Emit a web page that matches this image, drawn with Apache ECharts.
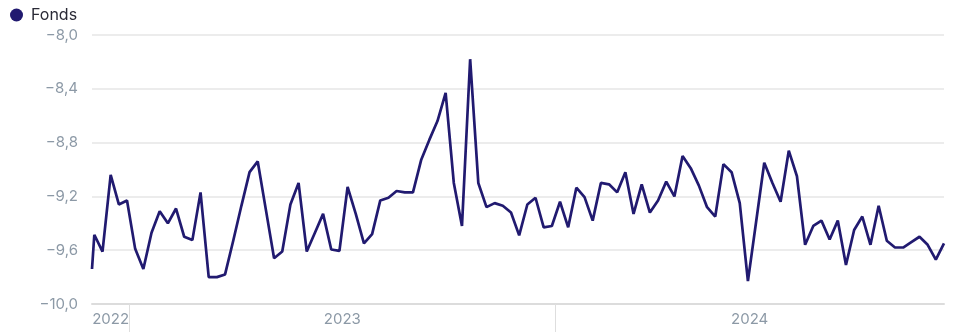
<!DOCTYPE html>
<html>
<head>
<meta charset="utf-8">
<title>Fonds</title>
<script src="https://cdn.jsdelivr.net/npm/echarts@6/dist/echarts.min.js"></script>
<style>
  html, body { margin: 0; padding: 0; background: #ffffff; }
  #chart { width: 953px; height: 332px; }
</style>
</head>
<body>
<div id="chart"></div>
<script>
// Series name shown in the legend
const seriesName = 'Fonds';

// First observation (month end), then weekly Friday observations
const firstDate = [2022, 10, 30];
const weeklyStart = [2022, 11, 2];

// Weekly values of the fund
const fondsValues = [
  -9.74, -9.485, -9.61, -9.04, -9.26, -9.23, -9.59, -9.74, -9.47, -9.31,
  -9.40, -9.29, -9.50, -9.525, -9.17, -9.80, -9.80, -9.78, -9.53, -9.27,
  -9.02, -8.94, -9.30, -9.66, -9.61, -9.26, -9.10, -9.61, -9.47, -9.33,
  -9.595, -9.605, -9.13, -9.33, -9.55, -9.48, -9.23, -9.21, -9.16, -9.17,
  -9.17, -8.93, -8.78, -8.64, -8.43, -9.10, -9.42, -8.18, -9.10, -9.28,
  -9.25, -9.27, -9.32, -9.49, -9.26, -9.21, -9.43, -9.42, -9.24, -9.43,
  -9.135, -9.205, -9.38, -9.10, -9.11, -9.17, -9.02, -9.33, -9.11, -9.32,
  -9.23, -9.09, -9.20, -8.90, -8.99, -9.12, -9.28, -9.35, -8.96, -9.02,
  -9.25, -9.83, -9.39, -8.95, -9.10, -9.24, -8.86, -9.05, -9.56, -9.42,
  -9.38, -9.52, -9.38, -9.71, -9.45, -9.35, -9.56, -9.27, -9.53, -9.58,
  -9.58, -9.54, -9.50, -9.56, -9.67, -9.55
];

// Year bands along the date axis
const yearLabels = ['2022', '2023', '2024'];

// Value axis range and step
const yMin = -10.0;
const yMax = -8.0;
const yStep = 0.4;

// Build the date (timestamp) of every observation
const dates = [new Date(firstDate[0], firstDate[1], firstDate[2]).getTime()];
for (let i = 1; i < fondsValues.length; i++) {
  dates.push(new Date(weeklyStart[0], weeklyStart[1], weeklyStart[2] + 7 * (i - 1)).getTime());
}
const seriesData = fondsValues.map((v, i) => [dates[i], v]);

const startTs = dates[0];
const endTs = dates[dates.length - 1];

// Year boundaries get a tick; the year label sits in the middle of its band
const yearTicks = [];
const yearCenters = [];
yearLabels.forEach((label) => {
  const y = Number(label);
  const jan1 = new Date(y, 0, 1).getTime();
  const from = Math.max(startTs, jan1);
  const to = Math.min(endTs, new Date(y + 1, 0, 1).getTime());
  yearCenters.push((from + to) / 2);
  if (jan1 > startTs && jan1 < endTs) yearTicks.push(jan1);
});

const labelColor = '#8c99a6';
const fontFamily = 'Inter, Roboto, "Noto Sans", sans-serif';

const chart = echarts.init(document.getElementById('chart'), null, { renderer: 'canvas' });

chart.setOption({
  animation: false,
  color: ['#211a70'],
  legend: {
    show: true,
    left: 5,
    top: 2,
    icon: 'circle',
    itemWidth: 13,
    itemHeight: 13,
    itemGap: 10,
    textStyle: {
      color: '#2a2a36',
      fontSize: 16,
      fontFamily: fontFamily,
      padding: [0, 0, 2, 3]
    },
    data: [seriesName]
  },
  grid: {
    left: 92,
    right: 9,
    top: 35,
    bottom: 28,
    containLabel: false
  },
  xAxis: {
    type: 'value',
    min: startTs,
    max: endTs,
    scale: true,
    axisLine: { show: true, lineStyle: { color: '#dcdcdc', width: 2 } },
    axisTick: {
      show: true,
      customValues: yearTicks,
      length: 30,
      lineStyle: { color: '#dedede', width: 1 }
    },
    axisLabel: {
      show: true,
      customValues: yearCenters,
      color: labelColor,
      fontSize: 15,
      fontFamily: fontFamily,
      margin: 8,
      showMinLabel: true,
      showMaxLabel: true,
      formatter: (value) => String(new Date(value).getFullYear())
    },
    splitLine: { show: false }
  },
  yAxis: {
    type: 'value',
    min: yMin,
    max: yMax,
    interval: yStep,
    axisLine: { show: false },
    axisTick: { show: false },
    axisLabel: {
      color: labelColor,
      fontSize: 15,
      fontFamily: fontFamily,
      margin: 14,
      formatter: (v) => v.toFixed(1).replace('.', ',').replace('-', '\u2212')
    },
    splitLine: { show: true, lineStyle: { color: '#e6e6e6', width: 1.5 } }
  },
  series: [
    {
      name: seriesName,
      type: 'line',
      data: seriesData,
      showSymbol: false,
      symbol: 'circle',
      lineStyle: { width: 2.7, color: '#211a70' },
      itemStyle: { color: '#211a70' }
    }
  ]
});
</script>
</body>
</html>
